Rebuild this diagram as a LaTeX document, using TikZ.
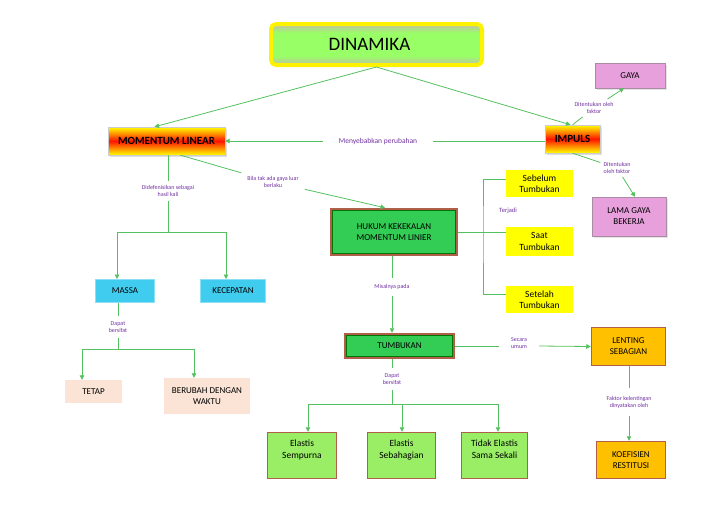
\documentclass[tikz,border=0pt]{standalone}
\usepackage{fontspec}
\setmainfont{Carlito}
\usetikzlibrary{arrows.meta,shadows}
\definecolor{lnk}{HTML}{55C060}
\definecolor{lab}{HTML}{7030A0}
\definecolor{brn}{HTML}{B0604A}
\definecolor{gpink}{HTML}{E8A0DC}
\definecolor{tpink}{HTML}{DA9CCB}
\definecolor{tgrn}{HTML}{99FF66}
\definecolor{ylw}{HTML}{FFFF00}
\definecolor{hgreen}{HTML}{33CC55}
\definecolor{lgrn}{HTML}{99EE66}
\definecolor{org}{HTML}{FFC000}
\definecolor{cyn}{HTML}{40CCEE}
\definecolor{peach}{HTML}{FBE4D5}
\pgfdeclareverticalshading{dinshade}{100bp}{color(0bp)=(tpink); color(20bp)=(tpink); color(36bp)=(tgrn); color(64bp)=(tgrn); color(80bp)=(tpink); color(100bp)=(tpink)}
\begin{document}
\begin{tikzpicture}[x=1pt,y=-1pt,
  conn/.style={draw=lnk, line width=0.8pt},
  arr/.style={conn, -{Triangle[length=4.5pt,width=4.5pt]}},
  lbl/.style={text=lab, font=\fontsize{6}{7.2}\selectfont, align=center, inner xsep=6pt, inner ysep=4pt},
  boxbase/.style={rectangle, inner sep=0pt, align=center, font=\fontsize{9}{11}\selectfont},
  hotbox/.style={boxbase, draw=gray!40, top color=ylw, bottom color=ylw, middle color=red!85!orange,
     font=\fontsize{11}{13}\selectfont\bfseries, drop shadow={shadow xshift=2pt, shadow yshift=-2pt, fill=gray!50}},
  pinkbox/.style={boxbase, fill=gpink, draw=gray!60!gpink, drop shadow={shadow xshift=1.5pt, shadow yshift=-1.5pt, fill=gray!40}},
  ybox/.style={boxbase, fill=ylw, font=\fontsize{9.5}{11.5}\selectfont},
  dblbox/.style={boxbase, fill=hgreen, draw=brn, line width=2.5pt},
  obox/.style={boxbase, fill=org, draw=brn, line width=1.5pt},
  gbox/.style={boxbase, fill=lgrn, draw=brn, line width=1.5pt},
  cbox/.style={boxbase, fill=cyn, draw=cyn!60!white, line width=1pt},
  pbox/.style={boxbase, fill=peach}
]
\useasboundingbox (0,0) rectangle (728,515);

% title
\node[boxbase, draw=yellow, line width=4pt, rounded corners=5pt, shading=dinshade,
      minimum width=211pt, minimum height=41pt, font=\fontsize{19}{22}\selectfont] (dinamika) at (376.5,44.5) {\hspace*{-14pt}DINAMIKA};

% top level
\node[hotbox, minimum width=117pt, minimum height=28pt] (mom) at (166.5,141) {MOMENTUM LINEAR};
\node[hotbox, minimum width=55pt, minimum height=28pt] (impuls) at (572.5,139) {IMPULS};
\node[pinkbox, minimum width=70pt, minimum height=25pt] (gaya) at (630,75.5) {GAYA};
\node[pinkbox, minimum width=74pt, minimum height=39pt] (lama) at (629,216.5) {LAMA GAYA\\BEKERJA};

% yellow boxes
\node[ybox, minimum width=67pt, minimum height=27pt] (sebelum) at (539.5,183.5) {Sebelum\\Tumbukan};
\node[ybox, minimum width=67pt, minimum height=29pt] (saat) at (539.5,241.5) {Saat\\Tumbukan};
\node[ybox, minimum width=67pt, minimum height=27pt] (setelah) at (539.5,299.5) {Setelah\\Tumbukan};

% hukum & tumbukan
\node[dblbox, minimum width=126pt, minimum height=46pt] (hukum) at (394,232) {HUKUM KEKEKALAN\\MOMENTUM LINIER};
\draw[green!45!black, line width=0.6pt] ([shift={(2.6pt,-2.6pt)}]hukum.north west) rectangle ([shift={(-2.6pt,2.6pt)}]hukum.south east);
\node[dblbox, minimum width=109pt, minimum height=24pt] (tumb) at (399.5,346) {TUMBUKAN};
\draw[green!45!black, line width=0.6pt] ([shift={(2.6pt,-2.6pt)}]tumb.north west) rectangle ([shift={(-2.6pt,2.6pt)}]tumb.south east);

% orange
\node[obox, minimum width=74pt, minimum height=38pt] (lenting) at (628.5,346.5) {LENTING\\SEBAGIAN};
\node[obox, minimum width=69pt, minimum height=37pt] (koef) at (631,460) {KOEFISIEN\\RESTITUSI};

% cyan & peach
\node[cbox, minimum width=59pt, minimum height=23pt] (massa) at (125,291) {MASSA};
\node[cbox, minimum width=65pt, minimum height=23pt] (kec) at (233,291) {KECEPATAN};
\node[pbox, minimum width=57pt, minimum height=23pt] (tetap) at (93.5,391.5) {TETAP};
\node[pbox, minimum width=86pt, minimum height=36pt] (berubah) at (207,396) {BERUBAH DENGAN\\WAKTU};

% bottom green boxes
\node[gbox, minimum width=69pt, minimum height=46pt,
      label={[font=\fontsize{9.5}{11.5}\selectfont, align=center, anchor=north, yshift=-5pt]north:Elastis\\Sempurna}] (es) at (302,455.5) {};
\node[gbox, minimum width=68pt, minimum height=46pt,
      label={[font=\fontsize{9.5}{11.5}\selectfont, align=center, anchor=north, yshift=-5pt]north:Elastis\\Sebahagian}] (esb) at (401.5,455.5) {};
\node[gbox, minimum width=66pt, minimum height=46pt,
      label={[font=\fontsize{9.5}{11.5}\selectfont, align=center, anchor=north, yshift=-5pt]north:Tidak Elastis\\Sama Sekali}] (tes) at (494.5,455.5) {};

% labels
\node[lbl, font=\fontsize{7.5}{9}\selectfont, inner xsep=16pt] (l1) at (378,141) {Menyebabkan perubahan};
\node[lbl] (l2) at (273,182) {Bila tak ada gaya luar\\berlaku};
\node[lbl, inner sep=3pt] (l3) at (594,108) {Ditentukan oleh\\faktor};
\node[lbl, inner sep=3pt] (l5) at (617,168) {Ditentukan\\oleh faktor};
\node[lbl] (l4) at (168,191) {Didefenisikan sebagai\\hasil kali};
\node[lbl, font=\fontsize{6.5}{8}\selectfont] (terjadi) at (508,211) {Terjadi};
\node[lbl, inner ysep=6pt] (l6) at (392,287) {Misalnya pada};
\node[lbl, inner xsep=12pt] (l7) at (519,343) {Secara\\umum};
\node[lbl, inner ysep=8pt] (l8) at (629,402) {Faktor kelentingan\\dinyatakan oleh};
\node[lbl, inner ysep=5pt] (l9) at (392,379) {Dapat\\bersifat};
\node[lbl, inner ysep=5pt] (l10) at (118,327) {Dapat\\bersifat};

\coordinate (j1) at (168,232);
\coordinate (b1) at (483,232);
\coordinate (j2) at (392,404);
\coordinate (j3) at (118,349);

% connectors
\draw[arr] (dinamika.south) -- ([xshift=-12pt]mom.north);
\draw[arr] (dinamika.south) -- ([xshift=-2pt]impuls.north);
\draw[conn] (impuls.west |- l1) -- (l1.east);
\draw[arr] (l1.west) -- (mom.east);
\draw[conn] ([xshift=14pt]mom.south) -- (l2);
\draw[arr] (l2) -- ([xshift=-9pt]hukum.north);
\draw[conn] (impuls.north) -- (l3);
\draw[arr] (l3) -- ([xshift=-6pt]gaya.south);
\draw[conn] (impuls.south) -- (l5);
\draw[arr] (l5) -- ([xshift=6pt]lama.north);
\draw[conn] (l4 |- mom.south) -- (l4);
\draw[conn] (l4) -- (j1);
\draw[arr] (j1) -| ([xshift=-8pt]massa.north);
\draw[arr] (j1) -| ([xshift=-7pt]kec.north);
\draw[conn] (hukum.east) -- (b1);
\draw[conn] ([yshift=4.5pt]sebelum.west) -| (b1) |- ([yshift=5.5pt]setelah.west);
\draw[conn] (b1) -- ([yshift=9.5pt]saat.west);
\draw[conn] (l6 |- hukum.south) -- (l6);
\draw[arr] (l6) -- (l6 |- tumb.north);
\draw[conn] (tumb.east) -- (l7.west |- tumb.east);
\draw[arr] (l7.east |- tumb.east) -- (lenting.west);
\draw[conn] (l8 |- lenting.south) -- (l8);
\draw[arr] (l8) -- (l8 |- koef.north);
\draw[conn] (l9 |- tumb.south) -- (l9);
\draw[conn] (l9) -- (j2);
\draw[arr] (j2) -| ([xshift=6pt]es.north);
\draw[arr] (j2) -| ([xshift=0.5pt]esb.north);
\draw[arr] (j2) -| ([xshift=3.5pt]tes.north);
\draw[conn] (l10 |- massa.south) -- (l10);
\draw[conn] (l10) -- (j3);
\draw[arr] (j3) -| ([xshift=-11.5pt]tetap.north);
\draw[arr] (j3) -| ([xshift=-13pt]berubah.north);
\end{tikzpicture}
\end{document}
